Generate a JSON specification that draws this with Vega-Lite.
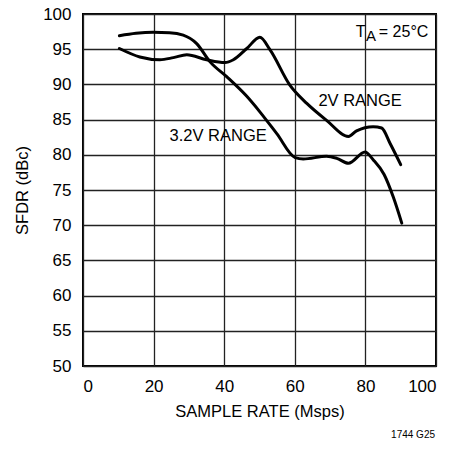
{
  "$schema": "https://vega.github.io/schema/vega-lite/v6.json",
  "autosize": "none",
  "width": 353,
  "height": 352,
  "padding": {"left": 83, "top": 14, "right": 23, "bottom": 83},
  "background": "white",
  "config": {
    "font": "Liberation Sans",
    "view": {"stroke": "black", "strokeWidth": 2},
    "axis": {
      "grid": true,
      "gridColor": "#222222",
      "gridWidth": 1.3,
      "gridOpacity": 1,
      "domain": false,
      "ticks": false,
      "labelOverlap": false,
      "labelFont": "Liberation Sans",
      "labelFontSize": 17,
      "labelColor": "black",
      "titleFont": "Liberation Sans",
      "titleFontSize": 16.5,
      "titleFontWeight": "normal",
      "titleColor": "black"
    }
  },
  "datasets": {
    "curves": [
      {"range": "3.2V", "rate": 10.3, "sfdr": 96.9},
      {"range": "3.2V", "rate": 15.0, "sfdr": 97.25},
      {"range": "3.2V", "rate": 19.9, "sfdr": 97.4},
      {"range": "3.2V", "rate": 24.5, "sfdr": 97.35},
      {"range": "3.2V", "rate": 28.4, "sfdr": 97.0},
      {"range": "3.2V", "rate": 32.2, "sfdr": 95.8},
      {"range": "3.2V", "rate": 36.0, "sfdr": 93.2},
      {"range": "3.2V", "rate": 40.7, "sfdr": 91.1},
      {"range": "3.2V", "rate": 46.4, "sfdr": 88.3},
      {"range": "3.2V", "rate": 50.1, "sfdr": 86.1},
      {"range": "3.2V", "rate": 54.9, "sfdr": 83.0},
      {"range": "3.2V", "rate": 60.1, "sfdr": 79.6},
      {"range": "3.2V", "rate": 62.4, "sfdr": 79.4},
      {"range": "3.2V", "rate": 69.0, "sfdr": 79.8},
      {"range": "3.2V", "rate": 71.9, "sfdr": 79.5},
      {"range": "3.2V", "rate": 75.2, "sfdr": 78.8},
      {"range": "3.2V", "rate": 79.9, "sfdr": 80.4},
      {"range": "3.2V", "rate": 82.2, "sfdr": 79.3},
      {"range": "3.2V", "rate": 85.3, "sfdr": 77.2},
      {"range": "3.2V", "rate": 87.9, "sfdr": 74.0},
      {"range": "3.2V", "rate": 90.3, "sfdr": 70.3},
      {"range": "2V", "rate": 10.3, "sfdr": 95.1},
      {"range": "2V", "rate": 16.1, "sfdr": 93.9},
      {"range": "2V", "rate": 21.8, "sfdr": 93.5},
      {"range": "2V", "rate": 25.6, "sfdr": 93.8},
      {"range": "2V", "rate": 29.4, "sfdr": 94.2},
      {"range": "2V", "rate": 35.0, "sfdr": 93.5},
      {"range": "2V", "rate": 40.2, "sfdr": 93.1},
      {"range": "2V", "rate": 42.6, "sfdr": 93.5},
      {"range": "2V", "rate": 46.4, "sfdr": 95.1},
      {"range": "2V", "rate": 50.1, "sfdr": 96.7},
      {"range": "2V", "rate": 53.0, "sfdr": 94.9},
      {"range": "2V", "rate": 58.6, "sfdr": 89.9},
      {"range": "2V", "rate": 63.4, "sfdr": 87.3},
      {"range": "2V", "rate": 69.0, "sfdr": 84.9},
      {"range": "2V", "rate": 75.2, "sfdr": 82.6},
      {"range": "2V", "rate": 77.5, "sfdr": 83.4},
      {"range": "2V", "rate": 82.2, "sfdr": 84.0},
      {"range": "2V", "rate": 84.6, "sfdr": 83.8},
      {"range": "2V", "rate": 87.0, "sfdr": 81.6},
      {"range": "2V", "rate": 90.0, "sfdr": 78.6}
    ],
    "labels": [
      {"label": "2V RANGE", "rate": 78.5, "sfdr": 87.6},
      {"label": "3.2V RANGE", "rate": 38.3, "sfdr": 82.6}
    ],
    "tmain": [
      {"label": "T", "rate": 77.3, "sfdr": 96.78},
      {"label": "= 25°C", "rate": 83.8, "sfdr": 96.78}
    ],
    "tsub": [
      {"label": "A", "rate": 80.2, "sfdr": 96.16}
    ],
    "note": [
      {"label": "1744 G25", "rate": 93.5, "sfdr": 40.2}
    ]
  },
  "encoding": {
    "x": {"field": "rate", "type": "quantitative", "scale": {"domain": [0, 100], "nice": false}, "axis": {"values": [0, 20, 40, 60, 80, 100], "title": "SAMPLE RATE (Msps)", "labelPadding": 12, "titlePadding": 9}},
    "y": {"field": "sfdr", "type": "quantitative", "scale": {"domain": [50, 100], "nice": false, "zero": false}, "axis": {"values": [50, 55, 60, 65, 70, 75, 80, 85, 90, 95, 100], "title": "SFDR (dBc)", "labelPadding": 12, "titlePadding": 12}}
  },
  "layer": [
    {
      "data": {"name": "curves"},
      "mark": {"type": "line", "color": "black", "strokeWidth": 3, "interpolate": "monotone", "strokeCap": "round", "strokeJoin": "round"},
      "encoding": {
        "detail": {"field": "range"}
      }
    },
    {
      "data": {"name": "labels"},
      "mark": {"type": "text", "fontSize": 16.5, "align": "center", "baseline": "middle", "color": "black"},
      "encoding": {
        "text": {"field": "label"}
      }
    },
    {
      "data": {"name": "tmain"},
      "mark": {"type": "text", "fontSize": 16, "align": "left", "baseline": "alphabetic", "color": "black"},
      "encoding": {
        "text": {"field": "label"}
      }
    },
    {
      "data": {"name": "tsub"},
      "mark": {"type": "text", "fontSize": 15, "align": "left", "baseline": "alphabetic", "color": "black"},
      "encoding": {
        "text": {"field": "label"}
      }
    },
    {
      "data": {"name": "note"},
      "mark": {"type": "text", "fontSize": 10, "align": "center", "baseline": "middle", "color": "black"},
      "encoding": {
        "text": {"field": "label"}
      }
    }
  ]
}
